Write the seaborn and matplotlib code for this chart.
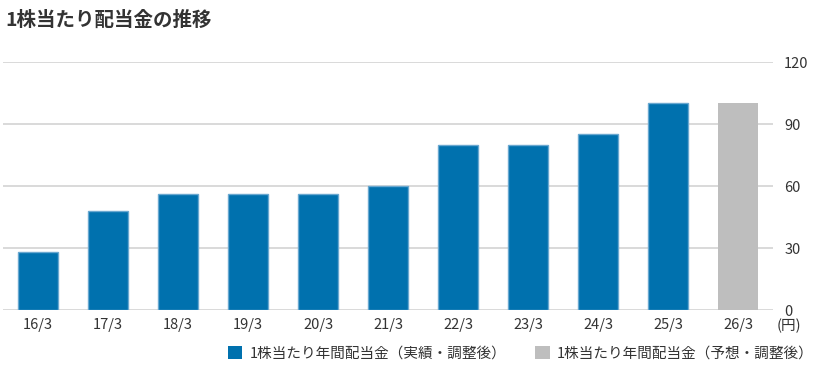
import matplotlib
matplotlib.use("Agg")
import matplotlib.pyplot as plt
import seaborn as sns
import pandas as pd
from matplotlib.patches import Patch

# ---- data ----
categories = ["16/3", "17/3", "18/3", "19/3", "20/3", "21/3", "22/3", "23/3", "24/3", "25/3", "26/3"]
dividends = [28, 48, 56, 56, 56, 60, 80, 80, 85, 100, 100]
kinds = ["実績", "実績", "実績", "実績", "実績", "実績", "実績", "実績", "実績", "実績", "予想"]
legend_labels = ["1株当たり年間配当金（実績・調整後）", "1株当たり年間配当金（予想・調整後）"]
y_ticks = [0, 30, 60, 90, 120]
title = "1株当たり配当金の推移"
unit_label = "(円)"

BLUE = "#0071AE"
GRAY = "#BEBEBE"
TEXT = "#333333"

sns.set_theme(style="white")
plt.rcParams["font.family"] = ["Noto Sans CJK JP", "DejaVu Sans"]

df = pd.DataFrame({"cat": categories, "val": dividends, "kind": kinds})

fig = plt.figure(figsize=(8.21, 3.68), dpi=100)
ax = fig.add_axes([3 / 821, 1 - 310 / 368, 770 / 821, 248 / 368])

sns.barplot(data=df, x="cat", y="val", hue="kind", palette={"実績": BLUE, "予想": GRAY},
            dodge=False, width=0.57, legend=False, ax=ax, saturation=1)

for p in ax.patches:
    fc = p.get_facecolor()
    if abs(fc[0] - 0.0) < 0.05:  # blue bars get a light edge
        p.set_edgecolor("#6AA8D0")
        p.set_linewidth(1.0)
    else:
        p.set_linewidth(0)

ax.set_xlim(-0.5, 10.5)
ax.set_ylim(0, 120)
ax.set_yticks(y_ticks)
ax.yaxis.tick_right()
ax.yaxis.grid(True, color="#D3D3D3", linewidth=1.2)
ax.set_axisbelow(True)
for s in ax.spines.values():
    s.set_visible(False)
ax.tick_params(axis="both", length=0, labelsize=10.5, colors=TEXT)
ax.tick_params(axis="y", pad=8)
ax.tick_params(axis="x", pad=6)
ax.set_xlabel("")
ax.set_ylabel("")

fig.text(5 / 821, 1 - 20 / 368, title, fontsize=14, fontweight="bold", color=TEXT,
         ha="left", va="center")
fig.text(789 / 821, 1 - 326 / 368, unit_label, fontsize=10.5, color=TEXT, ha="center", va="center")

handles = [Patch(facecolor=BLUE, edgecolor="none"), Patch(facecolor=GRAY, edgecolor="none")]
leg = fig.legend(handles, legend_labels, loc="center right", bbox_to_anchor=(814 / 821, 1 - 353 / 368),
                 ncol=2, frameon=False, fontsize=10.5, handlelength=1.0, handleheight=1.0,
                 handletextpad=0.5, columnspacing=2.0, borderaxespad=0, borderpad=0)
for t in leg.get_texts():
    t.set_color(TEXT)

fig.savefig("out.png", dpi=100)
